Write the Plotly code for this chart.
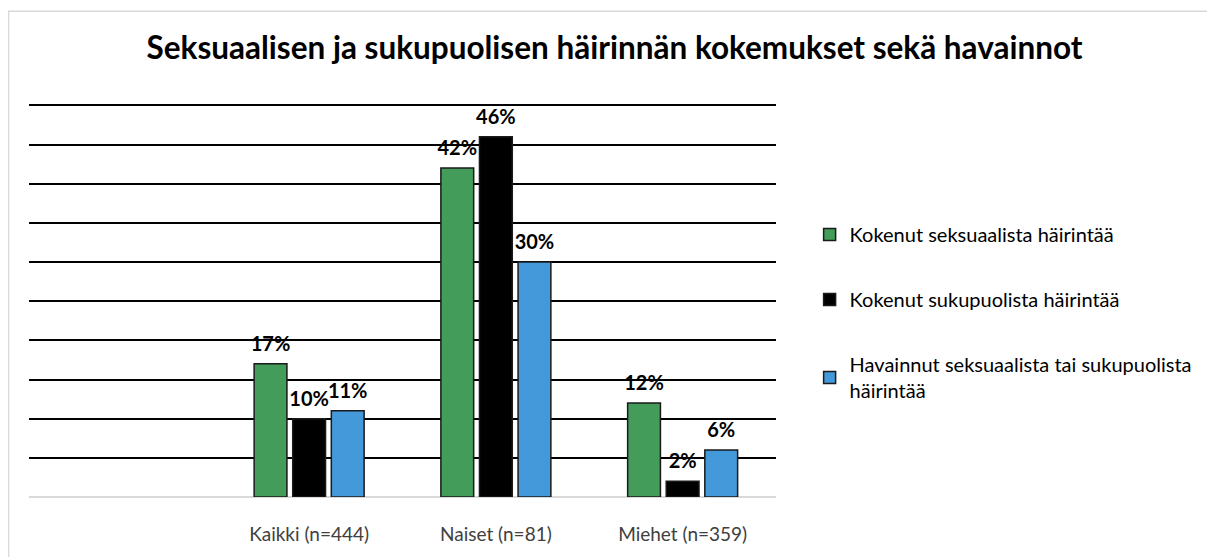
import plotly.graph_objects as go

categories = ["Kaikki (n=444)", "Naiset (n=81)", "Miehet (n=359)"]
series_names = [
    "Kokenut seksuaalista häirintää",
    "Kokenut sukupuolista häirintää",
    "Havainnut seksuaalista tai sukupuolista<br>häirintää",
]
sexual = [17, 42, 12]
gender = [10, 46, 2]
observed = [11, 30, 6]
series_values = [sexual, gender, observed]
colors = ["#439C59", "#000000", "#4499DA"]

FONT = "Lato"
fig = go.Figure()
for i, (name, vals, col) in enumerate(zip(series_names, series_values, colors)):
    fig.add_trace(go.Bar(
        x=categories, y=vals, name=name, marker=dict(color=col, line=dict(color="#1a1a1a", width=1.5)),
        offsetgroup=str(i), legendgroup=str(i), hoverinfo="skip",
    ))
for i, vals in enumerate(series_values):
    fig.add_trace(go.Scatter(
        x=categories, y=vals, mode="markers+text", text=[f"{v}%" for v in vals],
        textposition="top center", marker=dict(size=11, opacity=0),
        textfont=dict(family=FONT, size=20, color="#000000", weight="bold"),
        offsetgroup=str(i), showlegend=False, hoverinfo="skip", cliponaxis=False,
    ))

fig.update_layout(
    width=1207, height=549,
    margin=dict(l=21, r=439, t=95, b=50),
    paper_bgcolor="white", plot_bgcolor="white",
    barmode="group", bargap=0.38, bargroupgap=0.15,
    scattermode="group", scattergap=0.38,
    title=dict(text="<b>Seksuaalisen ja sukupuolisen häirinnän kokemukset sekä havainnot</b>",
               x=0.5025, xanchor="center", y=0.927, yanchor="middle",
               font=dict(family=FONT, size=31.5, color="#000000")),
    font=dict(family=FONT, size=19, color="#000000"),
    showlegend=True,
    legend=dict(x=1.045, xanchor="left", y=0.468, yanchor="middle",
                font=dict(family=FONT, size=20, color="#000000"),
                tracegroupgap=36, bgcolor="rgba(0,0,0,0)"),
    xaxis=dict(type="category", range=[-1.5, 2.5], showgrid=False, showline=False,
               ticks="", ticklabelstandoff=24,
               tickfont=dict(family=FONT, size=19, color="#404040")),
    yaxis=dict(range=[0, 50.3], dtick=5, showgrid=True, gridcolor="#000000", gridwidth=2,
               showticklabels=False, zeroline=True, zerolinecolor="#d9d9d9", zerolinewidth=2,
               showline=False, ticks=""),
    shapes=[dict(type="rect", xref="paper", yref="paper", x0=-0.0274, x1=1.8, y0=-0.3, y1=1.233,
                 line=dict(color="#d9d9d9", width=1.5), fillcolor="rgba(0,0,0,0)", layer="below")],
)
fig.write_html("out.html")
